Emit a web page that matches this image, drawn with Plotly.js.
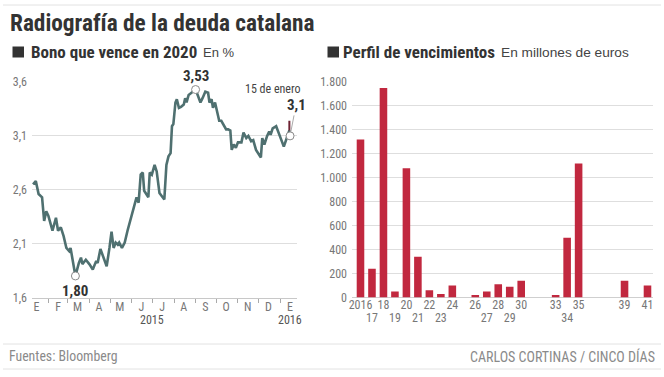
<!DOCTYPE html>
<html>
<head>
<meta charset="utf-8">
<script src="https://cdn.plot.ly/plotly-3.0.1.min.js"></script>
<style>html,body{margin:0;padding:0;background:#fff;}#chart{width:664px;height:377px;}</style>
</head>
<body>
<div id="chart"></div>
<script>
// ---- Left chart: Bono que vence en 2020 (yield, %) ----
var bondDates = ['2015-01-10','2015-01-14','2015-01-18','2015-01-23','2015-01-26','2015-01-29','2015-02-01','2015-02-07','2015-02-12','2015-02-15','2015-02-19','2015-02-23','2015-02-27','2015-03-03','2015-03-05','2015-03-09','2015-03-12','2015-03-17','2015-03-20','2015-03-22','2015-03-27','2015-04-01','2015-04-06','2015-04-11','2015-04-13','2015-04-17','2015-04-21','2015-04-26','2015-04-30','2015-05-03','2015-05-06','2015-05-09','2015-05-12','2015-05-14','2015-05-18','2015-05-22','2015-05-26','2015-05-31','2015-06-05','2015-06-08','2015-06-11','2015-06-14','2015-06-17','2015-06-19','2015-06-22','2015-06-25','2015-06-27','2015-06-30','2015-07-04','2015-07-07','2015-07-11','2015-07-15','2015-07-18','2015-07-21','2015-07-24','2015-07-27','2015-07-29','2015-07-31','2015-08-03','2015-08-05','2015-08-08','2015-08-11','2015-08-15','2015-08-17','2015-08-19','2015-08-22','2015-08-26','2015-08-29','2015-09-01','2015-09-04','2015-09-08','2015-09-11','2015-09-15','2015-09-19','2015-09-21','2015-09-24','2015-09-26','2015-09-29','2015-10-02','2015-10-05','2015-10-08','2015-10-11','2015-10-15','2015-10-18','2015-10-21','2015-10-23','2015-10-26','2015-10-29','2015-11-01','2015-11-06','2015-11-09','2015-11-13','2015-11-16','2015-11-20','2015-11-23','2015-11-27','2015-12-01','2015-12-04','2015-12-06','2015-12-09','2015-12-13','2015-12-16','2015-12-18','2015-12-21','2015-12-26','2015-12-30','2016-01-02','2016-01-06','2016-01-10','2016-01-12','2016-01-14','2016-01-15'];
var bondYield = [2.65,2.68,2.56,2.53,2.31,2.40,2.36,2.22,2.34,2.22,2.25,2.17,2.06,2.03,2.06,1.92,1.80,1.92,1.97,1.91,1.95,1.91,1.86,1.94,1.92,2.05,1.97,1.89,2.06,2.21,2.06,2.11,2.09,2.11,2.06,2.11,2.22,2.34,2.45,2.53,2.48,2.74,2.76,2.59,2.56,2.53,2.76,2.74,2.83,2.77,2.57,2.53,2.51,2.83,2.91,2.94,3.19,3.21,3.41,3.44,3.36,3.37,3.39,3.45,3.41,3.48,3.50,3.52,3.53,3.48,3.41,3.45,3.51,3.50,3.41,3.44,3.36,3.41,3.31,3.24,3.24,3.20,3.16,3.16,3.15,2.97,3.02,2.99,3.04,3.04,3.13,3.08,3.10,3.05,3.06,2.97,2.93,2.90,3.08,3.02,3.10,3.14,3.11,3.17,3.19,3.11,3.07,3.00,3.08,3.13,3.15,3.10];
var spikeDates = ['2016-01-14','2016-01-14'];
var spikeYield = [3.15,3.24];

var monthMids = ['2015-01-15','2015-02-15','2015-03-15','2015-04-15','2015-05-15','2015-06-15','2015-07-15','2015-08-15','2015-09-15','2015-10-15','2015-11-15','2015-12-15','2016-01-15'];
var monthLabels = ['E','F','M','A','M','J','J','A','S','O','N','D','E'];
var monthStarts = ['2015-02-01','2015-03-01','2015-04-01','2015-05-01','2015-06-01','2015-07-01','2015-08-01','2015-09-01','2015-10-01','2015-11-01','2015-12-01','2016-01-01'];
var yearLabelDates = ['2015-06-30','2016-01-15'];
var yearLabels = ['2015','2016'];
var bondTicks = [1.6,2.1,2.6,3.1,3.6];

// ---- Right chart: Perfil de vencimientos (millones de euros) ----
var matYears = [2016,2017,2018,2019,2020,2021,2022,2023,2024,2026,2027,2028,2029,2030,2033,2034,2035,2039,2041];
var matValues = [1320,240,1750,50,1080,340,60,30,100,20,50,110,90,140,20,500,1120,140,100];
var topTickYears = [2016,2018,2020,2022,2024,2026,2028,2030,2033,2035,2039,2041];
var topTickLabels = ['2016','18','20','22','24','26','28','30','33','35','39','41'];
var bottomTickYears = [2017,2019,2021,2023,2027,2029,2034];
var bottomTickLabels = ['17','19','21','23','27','29','34'];
var matTicks = [0,200,400,600,800,1000,1200,1400,1600,1800];

var NARROW = '"Liberation Sans Narrow", "Roboto Condensed", "DejaVu Sans Condensed", Arial, sans-serif';
var SANS = '"Liberation Sans", Arial, sans-serif';
var W = 664, H = 377;
function px(x){return x/W;}
function py(y){return 1 - y/H;}

// special points
var iMin = 0, iMax = 0;
bondYield.forEach(function(v,i){ if(v<bondYield[iMin]) iMin=i; if(v>bondYield[iMax]) iMax=i; });
var iLast = bondYield.length-1;
function fmt(v,d){return v.toFixed(d).replace('.',',');}

var traces = [
  // invisible carriers so that the overlay axes (tick marks / second label row) are drawn
  {type:'scatter', mode:'lines', x:bondDates, y:bondYield, xaxis:'x3', yaxis:'y',
   line:{color:'rgba(0,0,0,0)', width:0}, hoverinfo:'skip'},
  {type:'scatter', mode:'markers', x:matYears, y:matValues, xaxis:'x4', yaxis:'y2',
   marker:{color:'rgba(0,0,0,0)', size:1}, hoverinfo:'skip'},
  {type:'scatter', mode:'lines', x:bondDates, y:bondYield, xaxis:'x', yaxis:'y',
   line:{color:'#4f7070', width:2.6}, hoverinfo:'skip', cliponaxis:false},
  {type:'scatter', mode:'lines', x:spikeDates, y:spikeYield, xaxis:'x', yaxis:'y',
   line:{color:'#6e2233', width:2}, hoverinfo:'skip'},
  {type:'scatter', mode:'markers', x:[bondDates[iMin],bondDates[iMax],bondDates[iLast]],
   y:[bondYield[iMin],bondYield[iMax],bondYield[iLast]], xaxis:'x', yaxis:'y',
   marker:{size:8, color:'#ffffff', line:{color:'#8a8a8a', width:1}}, hoverinfo:'skip', cliponaxis:false},
  {type:'bar', x:matYears, y:matValues, xaxis:'x2', yaxis:'y2',
   marker:{color:'#c1283f'}, hoverinfo:'skip'}
];

var tickFont = {family:NARROW, size:12, color:'#777'};
var dom = [py(297.5), py(82)];

var layout = {
  width:W, height:H, margin:{l:0,r:0,t:0,b:0},
  paper_bgcolor:'#fff', plot_bgcolor:'#fff', showlegend:false,
  separators:',.', bargap:0.34,
  xaxis:{domain:[px(32),px(297)], type:'date', range:['2015-01-08 12:00','2016-01-25'],
    anchor:'y', tickmode:'array', tickvals:monthMids, ticktext:monthLabels, ticks:'',
    showgrid:false, zeroline:false, showline:true, linecolor:'#c8c8c8', linewidth:1,
    tickfont:tickFont, ticklabelstandoff:-2, fixedrange:true},
  xaxis3:{overlaying:'x', matches:'x', anchor:'y', type:'date', tickmode:'array', tickvals:monthStarts,
    ticks:'outside', ticklen:4, tickcolor:'#aaa', tickwidth:1, showticklabels:false,
    showgrid:false, zeroline:false, showline:false},
  yaxis:{domain:dom, anchor:'x', range:[1.6,3.6], tickmode:'array', tickvals:bondTicks, tickformat:'.1f',
    gridcolor:'#dedede', gridwidth:1, zeroline:false, showline:false, ticks:'',
    tickfont:tickFont, ticklabelstandoff:4, fixedrange:true},
  xaxis2:{domain:[px(352),px(653)], anchor:'y2', range:[2015.26,2041.48], tickmode:'array',
    tickvals:topTickYears, ticktext:topTickLabels, ticks:'', showgrid:false, zeroline:false,
    showline:false, tickfont:tickFont, ticklabelstandoff:-2, fixedrange:true},
  xaxis4:{overlaying:'x2', matches:'x2', anchor:'y2', tickmode:'array', tickvals:bottomTickYears,
    ticktext:bottomTickLabels, ticks:'', showgrid:false, zeroline:false, showline:false,
    tickfont:tickFont, ticklabelstandoff:11},
  yaxis2:{domain:dom, anchor:'x2', range:[0,1800], tickmode:'array', tickvals:matTicks,
    tickformat:',d', separatethousands:true, gridcolor:'#dedede', gridwidth:1,
    zeroline:true, zerolinecolor:'#cfcfcf', zerolinewidth:1, showline:false, ticks:'',
    tickfont:tickFont, ticklabelstandoff:4, fixedrange:true},
  shapes:[
    {type:'line', xref:'paper', yref:'paper', x0:px(3), x1:px(661), y0:py(5), y1:py(5), line:{color:'#e2e2e2', width:1}},
    {type:'line', xref:'paper', yref:'paper', x0:px(3), x1:px(661), y0:py(344), y1:py(344), line:{color:'#e2e2e2', width:1}},
    {type:'line', xref:'paper', yref:'paper', x0:px(3), x1:px(661), y0:py(369), y1:py(369), line:{color:'#e2e2e2', width:1}},
    {type:'rect', xref:'paper', yref:'paper', x0:px(12.5), x1:px(24), y0:py(57.5), y1:py(46.5), fillcolor:'#333', line:{width:0}},
    {type:'rect', xref:'paper', yref:'paper', x0:px(327.5), x1:px(339), y0:py(57.5), y1:py(46.5), fillcolor:'#333', line:{width:0}}
  ],
  annotations:[
    {xref:'paper', yref:'paper', x:px(8), y:py(23), xanchor:'left', yanchor:'middle', showarrow:false,
     text:'Radiografía de la deuda catalana', font:{family:NARROW, size:23.3, color:'#333', weight:'bold'}},
    {xref:'paper', yref:'paper', x:px(28.5), y:py(52), xanchor:'left', yanchor:'middle', showarrow:false,
     text:'Bono que vence en 2020', font:{family:NARROW, size:17, color:'#333', weight:'bold'}},
    {xref:'paper', yref:'paper', x:px(201), y:py(52.5), xanchor:'left', yanchor:'middle', showarrow:false,
     text:'En %', font:{family:SANS, size:13, color:'#444'}},
    {xref:'paper', yref:'paper', x:px(341.5), y:py(52), xanchor:'left', yanchor:'middle', showarrow:false,
     text:'Perfil de vencimientos', font:{family:NARROW, size:17, color:'#333', weight:'bold'}},
    {xref:'paper', yref:'paper', x:px(499), y:py(52.5), xanchor:'left', yanchor:'middle', showarrow:false,
     text:'En millones de euros', font:{family:SANS, size:13.7, color:'#444'}},
    {xref:'paper', yref:'paper', x:px(7), y:py(356), xanchor:'left', yanchor:'middle', showarrow:false,
     text:'Fuentes: Bloomberg', font:{family:NARROW, size:13.8, color:'#8a8a8a'}},
    {xref:'paper', yref:'paper', x:px(657), y:py(356), xanchor:'right', yanchor:'middle', showarrow:false,
     text:'CARLOS CORTINAS / CINCO DÍAS', font:{family:NARROW, size:14, color:'#8a8a8a'}},
    {xref:'x', yref:'paper', x:yearLabelDates[0], y:py(319.5), xanchor:'center', yanchor:'middle', showarrow:false,
     text:yearLabels[0], font:{family:NARROW, size:12, color:'#555'}},
    {xref:'x', yref:'paper', x:yearLabelDates[1], y:py(319.5), xanchor:'center', yanchor:'middle', showarrow:false,
     text:yearLabels[1], font:{family:NARROW, size:12, color:'#555'}},
    {xref:'x', yref:'y', x:bondDates[iMin], y:bondYield[iMin], xanchor:'center', yanchor:'top', yshift:-4, showarrow:false,
     text:fmt(bondYield[iMin],2), font:{family:NARROW, size:15, color:'#333', weight:'bold'}},
    {xref:'x', yref:'y', x:bondDates[iMax], y:bondYield[iMax], xanchor:'center', yanchor:'bottom', yshift:3, showarrow:false,
     text:fmt(bondYield[iMax],2), font:{family:NARROW, size:15, color:'#333', weight:'bold'}},
    {xref:'x', yref:'y', x:bondDates[iLast], y:bondYield[iLast], xanchor:'right', yanchor:'middle', xshift:13, yshift:47, showarrow:false,
     text:'15 de enero', font:{family:NARROW, size:12, color:'#444'}},
    {xref:'x', yref:'y', x:bondDates[iLast], y:bondYield[iLast], showarrow:true, arrowhead:0, arrowwidth:1, arrowcolor:'#aaa',
     ax:6, ay:-31, standoff:4, xanchor:'center', yanchor:'middle',
     text:fmt(bondYield[iLast],1), font:{family:NARROW, size:15, color:'#333', weight:'bold'}}
  ]
};

Plotly.newPlot('chart', traces, layout, {staticPlot:true, displayModeBar:false});
</script>
</body>
</html>
